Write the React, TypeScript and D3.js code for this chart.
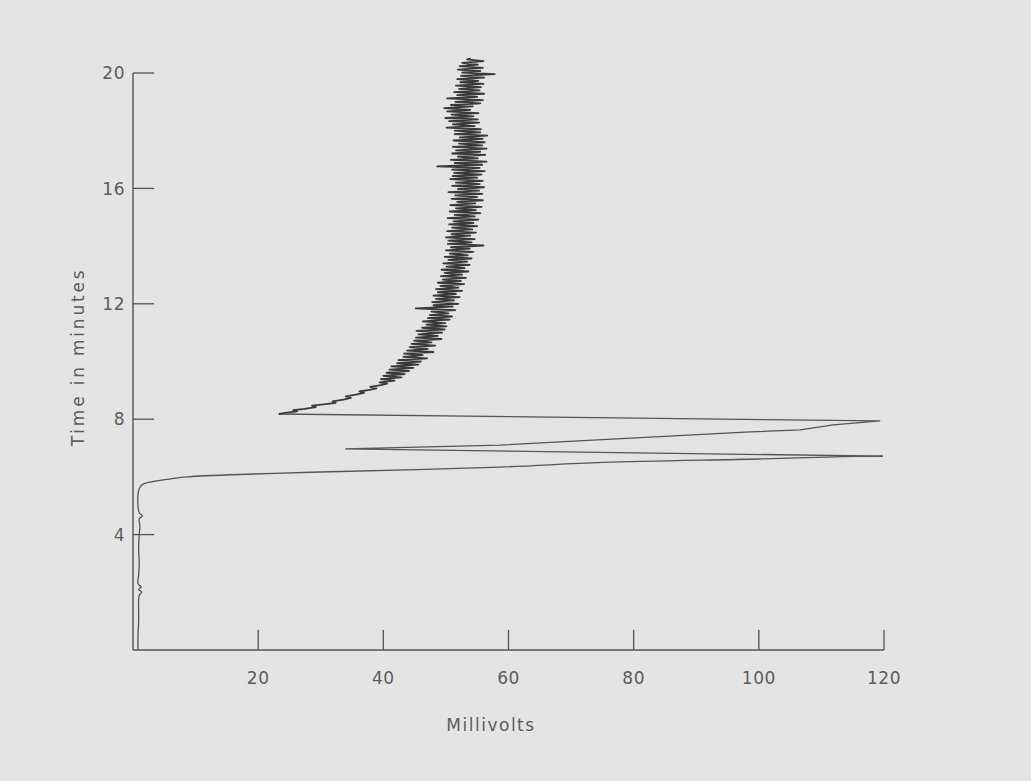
import React from "react";
import * as d3 from "d3";

// Time (minutes) vs millivolts trace
const baselineTrace: [number, number][] = [
  [0, 0.8], [0.5, 0.8], [1.0, 0.9], [1.3, 0.9], [1.9, 1.0], [2.0, 1.4], [2.1, 0.9], [2.18, 1.3],
  [2.3, 0.8], [2.6, 0.9], [3.0, 1.0], [3.5, 0.9], [4.0, 1.0], [4.3, 1.1], [4.55, 1.0], [4.65, 1.5],
  [4.75, 1.0], [5.0, 0.8], [5.37, 0.8], [5.6, 1.0], [5.75, 1.6], [5.85, 3.5], [5.93, 6.0],
  [6.0, 8.6], [6.1, 19.2], [6.17, 29.9], [6.34, 58.6], [6.5, 75.0], [6.62, 100.0], [6.7, 113.5],
  [6.72, 119.8],
];

const spikeTrace: [number, number][] = [
  [6.72, 119.8], [6.97, 33.9], [7.1, 58.6], [7.38, 82.6], [7.56, 98.6], [7.63, 106.6],
  [7.8, 111.9], [7.94, 119.4], [8.18, 23.3],
];

const noisyTrace: [number, number][] = [
  [8.18, 23.3], [8.23, 24.6], [8.27, 26.2], [8.31, 25.6], [8.36, 27.4], [8.42, 29.2], [8.47, 28.6],
  [8.52, 30.8], [8.57, 32.4], [8.62, 31.9], [8.68, 33.6], [8.74, 34.8], [8.79, 34.0], [8.85, 35.6],
  [8.91, 36.9], [8.96, 36.2], [9.02, 37.8], [9.07, 38.9], [9.12, 37.9], [9.18, 39.6], [9.23, 40.6],
  [9.28, 39.4], [9.34, 41.8], [9.39, 39.6], [9.45, 42.9], [9.5, 40.0], [9.56, 43.4], [9.61, 40.5],
  [9.67, 44.1], [9.72, 41.0], [9.78, 44.8], [9.83, 41.3], [9.89, 45.6], [9.94, 42.2], [10.0, 46.0],
  [10.05, 42.4], [10.11, 47.0], [10.16, 43.2], [10.22, 46.3], [10.27, 43.3], [10.33, 48.0],
  [10.38, 43.8], [10.44, 47.1], [10.5, 44.2], [10.55, 48.3], [10.61, 44.5], [10.66, 47.7],
  [10.72, 44.9], [10.78, 49.3], [10.83, 45.2], [10.89, 48.7], [10.94, 45.6], [11.0, 49.4],
  [11.06, 45.3], [11.11, 49.8], [11.17, 46.2], [11.22, 50.1], [11.28, 46.9], [11.33, 49.9],
  [11.39, 46.3], [11.45, 50.6], [11.5, 47.1], [11.56, 51.0], [11.61, 47.4], [11.67, 50.4],
  [11.73, 47.7], [11.78, 51.5], [11.84, 45.2], [11.9, 51.1], [11.95, 48.0], [12.0, 52.0],
  [12.06, 47.8], [12.12, 51.3], [12.17, 48.4], [12.23, 52.2], [12.28, 48.0], [12.34, 51.6],
  [12.4, 48.7], [12.45, 52.6], [12.51, 48.4], [12.56, 52.0], [12.62, 49.1], [12.68, 52.9],
  [12.73, 48.7], [12.79, 52.4], [12.84, 49.5], [12.9, 53.2], [12.96, 49.2], [13.01, 52.6],
  [13.07, 49.8], [13.12, 53.6], [13.18, 49.3], [13.24, 53.0], [13.29, 50.1], [13.35, 53.8],
  [13.4, 49.6], [13.46, 53.4], [13.52, 50.4], [13.57, 54.1], [13.63, 49.8], [13.68, 53.5],
  [13.74, 50.6], [13.8, 54.4], [13.85, 50.0], [13.91, 53.8], [13.96, 50.8], [14.02, 56.0],
  [14.08, 50.3], [14.13, 54.1], [14.19, 50.4], [14.24, 54.6], [14.3, 50.0], [14.36, 53.9],
  [14.41, 50.9], [14.47, 54.8], [14.52, 50.2], [14.58, 54.2], [14.64, 51.0], [14.69, 55.0],
  [14.75, 50.5], [14.8, 54.4], [14.86, 51.2], [14.92, 55.2], [14.97, 50.3], [15.03, 54.6],
  [15.08, 51.4], [15.14, 55.5], [15.2, 50.6], [15.25, 54.8], [15.31, 51.6], [15.36, 55.7],
  [15.42, 50.7], [15.48, 54.7], [15.53, 51.8], [15.59, 55.9], [15.64, 50.9], [15.7, 55.0],
  [15.76, 51.5], [15.81, 55.8], [15.87, 50.4], [15.92, 55.3], [15.98, 51.9], [16.04, 56.1],
  [16.09, 51.0], [16.15, 55.4], [16.2, 51.6], [16.26, 55.9], [16.32, 50.7], [16.37, 55.0],
  [16.43, 51.1], [16.48, 55.7], [16.54, 51.3], [16.6, 56.2], [16.65, 51.0], [16.71, 55.4],
  [16.76, 48.6], [16.82, 55.8], [16.88, 51.4], [16.93, 56.5], [16.99, 50.8], [17.04, 55.1],
  [17.1, 51.9], [17.16, 56.3], [17.21, 51.0], [17.27, 55.5], [17.32, 51.6], [17.38, 56.5],
  [17.44, 51.1], [17.49, 55.8], [17.55, 52.1], [17.6, 56.2], [17.66, 51.2], [17.72, 55.9],
  [17.77, 52.2], [17.83, 56.6], [17.88, 51.4], [17.94, 55.5], [18.0, 51.4], [18.05, 55.6],
  [18.11, 50.1], [18.16, 54.6], [18.22, 51.1], [18.28, 55.3], [18.33, 50.5], [18.39, 55.1],
  [18.44, 49.9], [18.5, 54.4], [18.56, 50.9], [18.61, 55.2], [18.67, 50.2], [18.72, 53.9],
  [18.78, 49.7], [18.84, 54.3], [18.89, 50.8], [18.95, 55.5], [19.0, 51.5], [19.06, 55.9],
  [19.12, 50.2], [19.17, 55.0], [19.23, 51.8], [19.28, 56.1], [19.34, 51.3], [19.4, 55.4],
  [19.45, 52.1], [19.51, 55.6], [19.56, 51.6], [19.62, 56.0], [19.68, 52.3], [19.73, 55.2],
  [19.79, 51.8], [19.84, 56.1], [19.9, 52.4], [19.96, 57.8], [20.01, 52.6], [20.07, 55.5],
  [20.12, 51.9], [20.18, 55.9], [20.24, 52.2], [20.29, 55.1], [20.35, 52.6], [20.41, 56.0],
  [20.47, 53.4], [20.5, 54.0],
];

const xTicks = [20, 40, 60, 80, 100, 120];
const yTicks = [4, 8, 12, 16, 20];
const xLabel = "Millivolts";
const yLabel = "Time in minutes";

export default function App() {
  const W = 1031;
  const H = 781;
  const x = d3.scaleLinear().domain([0, 120]).range([133, 884]);
  const y = d3.scaleLinear().domain([0, 20]).range([650, 73]);
  const line = d3
    .line<[number, number]>()
    .x((d) => x(d[1]))
    .y((d) => y(d[0]))
    .curve(d3.curveLinear);
  const smooth = d3
    .line<[number, number]>()
    .x((d) => x(d[1]))
    .y((d) => y(d[0]))
    .curve(d3.curveCatmullRom.alpha(0.5));

  const ink = "#3a3a3a";
  const textFill = "#5c5c5c";
  const font = "'DejaVu Sans', sans-serif";
  const fs = 17;

  return (
    <svg
      width={W}
      height={H}
      style={{ position: "absolute", left: 0, top: 0, background: "#e4e4e4" }}
    >
      <rect x={0} y={0} width={W} height={H} fill="#e4e4e4" />
      {/* axes */}
      <line x1={x(0)} x2={x(120)} y1={y(0)} y2={y(0)} stroke="#555" strokeWidth={1.4} />
      <line x1={x(0)} x2={x(0)} y1={y(0)} y2={y(20)} stroke="#555" strokeWidth={1.4} />
      {xTicks.map((t) => (
        <g key={"xt" + t}>
          <line x1={x(t)} x2={x(t)} y1={y(0)} y2={y(0) - 20} stroke="#555" strokeWidth={1.3} />
          <text
            x={x(t)}
            y={y(0) + 34}
            textAnchor="middle"
            fontFamily={font}
            fontSize={fs}
            fill={textFill}
            letterSpacing={0.5}
          >
            {t}
          </text>
        </g>
      ))}
      {yTicks.map((t) => (
        <g key={"yt" + t}>
          <line x1={x(0)} x2={x(0) + 21} y1={y(t)} y2={y(t)} stroke="#555" strokeWidth={1.3} />
          <text
            x={x(0) - 8}
            y={y(t)}
            dy="0.36em"
            textAnchor="end"
            fontFamily={font}
            fontSize={fs}
            fill={textFill}
            letterSpacing={0.5}
          >
            {t}
          </text>
        </g>
      ))}
      <text
        x={491}
        y={731}
        textAnchor="middle"
        fontFamily={font}
        fontSize={fs}
        fill={textFill}
        letterSpacing={1.5}
      >
        {xLabel}
      </text>
      <text
        transform={`translate(84,357) rotate(-90)`}
        textAnchor="middle"
        fontFamily={font}
        fontSize={fs}
        fill={textFill}
        letterSpacing={2.8}
      >
        {yLabel}
      </text>
      {/* traces */}
      <path d={smooth(baselineTrace) ?? ""} fill="none" stroke="#555" strokeWidth={1.3} />
      <path d={line(spikeTrace) ?? ""} fill="none" stroke="#555" strokeWidth={1.3} />
      <path
        d={line(noisyTrace) ?? ""}
        fill="none"
        stroke={ink}
        strokeWidth={1.8}
        strokeLinejoin="round"
      />
    </svg>
  );
}
